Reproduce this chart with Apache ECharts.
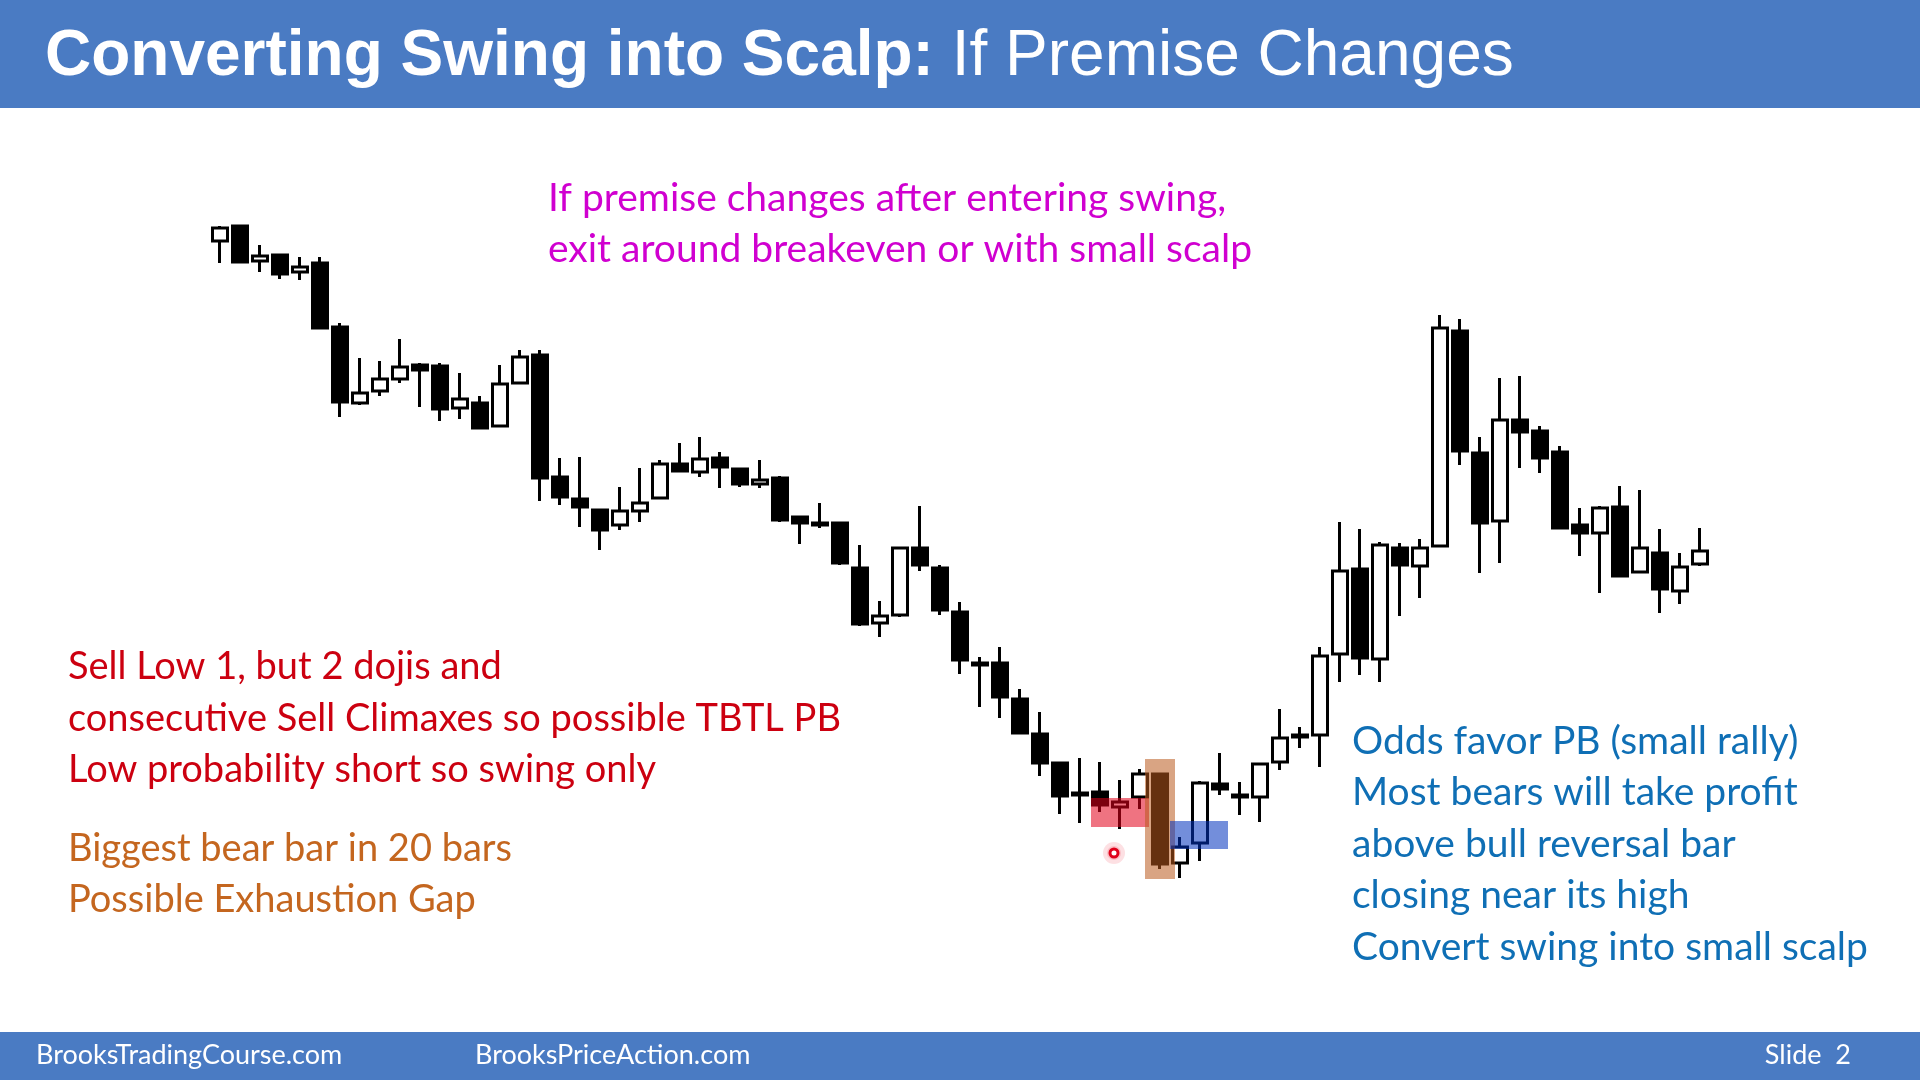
<!DOCTYPE html>
<html>
<head>
<meta charset="utf-8">
<title>Converting Swing into Scalp</title>
<script src="https://cdn.jsdelivr.net/npm/echarts@6/dist/echarts.min.js"></script>
<style>
  html, body { margin: 0; padding: 0; background: #fff; }
  #echar { width: 1920px; height: 1080px; }
</style>
</head>
<body>
<div id="echar"></div>
<script>
// bar numbers along the x axis
var bars = [];
for (var i = 1; i <= 75; i++) bars.push(String(i));

// prices (points)
var opens  = [759,774,739,745,728,737,673,597,609,621,635,634,592,597,574,617,645,523,501,490,475,489,502,536,528,542,531,516,522,483,477,477,432,377,385,452,432,388,337,337,301,266,237,207,208,193,203,226,137,157,216,205,203,238,265,265,346,431,341,452,434,454,669,547,479,580,569,548,475,467,493,428,447,409,436];
var closes = [772,738,744,726,733,672,598,607,621,633,630,591,601,572,616,643,522,503,493,470,489,497,536,529,541,533,516,520,480,477,475,437,376,384,452,435,390,340,335,303,267,237,204,205,195,198,226,136,153,217,211,203,236,262,263,344,429,342,455,435,452,672,549,477,580,568,542,472,467,492,424,452,411,433,449];
var lows   = [737,738,728,721,720,672,583,595,604,617,593,579,581,571,573,616,499,495,473,450,470,478,502,528,523,512,513,512,478,456,472,435,374,363,383,429,385,326,293,282,266,224,186,177,188,171,191,131,122,139,205,185,178,230,252,233,318,325,318,384,402,453,535,427,437,532,527,472,444,407,423,428,387,396,434];
var highs  = [774,775,755,745,743,743,677,642,639,661,637,637,627,604,635,650,650,542,543,491,513,532,540,557,563,548,531,540,524,484,497,478,455,399,452,494,435,398,343,353,311,288,238,242,238,220,231,226,163,219,247,218,237,291,273,353,478,471,458,457,461,685,681,563,622,624,574,554,492,494,514,510,471,447,472];

// shaded zones: [from bar, to bar, top price, bottom price]
var zones = [
  [43.55, 46.45, 202, 173],
  [46.25, 47.75, 241, 121],
  [47.5, 50.4, 179, 151]
];
var zoneColors = ['rgba(225,0,25,0.55)', 'rgba(185,90,30,0.55)', 'rgba(0,50,190,0.55)'];

// entry marker under the signal bar
var marker = [[44.7, 147]];

var candles = [];
for (var k = 0; k < bars.length; k++) {
  candles.push([opens[k], closes[k], lows[k], highs[k]]);
}

var myChart = echarts.init(document.getElementById('echar'), null, { renderer: 'canvas' });

var txt = function (str, x, y, color, size) {
  return {
    type: 'text',
    style: { text: str, x: x, y: y, fill: color, font: size + 'px Lato', verticalAlign: 'middle' }
  };
};

option = {
  animation: false,
  backgroundColor: '#ffffff',
  grid: { left: 210, right: 210, top: 200, height: 700 },
  xAxis: {
    type: 'category',
    data: bars,
    boundaryGap: true,
    show: false
  },
  yAxis: {
    type: 'value',
    min: 100,
    max: 800,
    show: false,
    splitLine: { show: false }
  },
  series: [{
    type: 'candlestick',
    data: candles,
    barWidth: 15,
    z: 2,
    itemStyle: {
      color: '#ffffff',
      color0: '#000000',
      borderColor: '#000000',
      borderColor0: '#000000',
      borderWidth: 3
    }
  }, {
    type: 'custom',
    z: 5,
    data: zones,
    encode: { x: [0, 1], y: [2, 3] },
    renderItem: function (params, api) {
      var band = api.size([1, 0])[0];
      var a = api.value(0), b = api.value(1);
      var p0 = api.coord([Math.floor(a), api.value(2)]);
      var p1 = api.coord([Math.floor(b), api.value(3)]);
      var x0 = p0[0] + (a - Math.floor(a)) * band;
      var x1 = p1[0] + (b - Math.floor(b)) * band;
      return {
        type: 'rect',
        shape: { x: x0, y: p0[1], width: x1 - x0, height: p1[1] - p0[1] },
        style: { fill: zoneColors[params.dataIndex] }
      };
    }
  }, {
    type: 'custom',
    z: 6,
    data: marker,
    encode: { x: 0, y: 1 },
    renderItem: function (params, api) {
      var band = api.size([1, 0])[0];
      var a = api.value(0);
      var p = api.coord([Math.floor(a), api.value(1)]);
      var cx = p[0] + (a - Math.floor(a)) * band;
      return {
        type: 'group',
        children: [{
          type: 'circle',
          shape: { cx: cx, cy: p[1], r: 11 },
          style: { fill: 'rgba(240,60,80,0.16)' }
        }, {
          type: 'circle',
          shape: { cx: cx, cy: p[1], r: 7 },
          style: { fill: 'rgba(240,60,80,0.2)' }
        }, {
          type: 'circle',
          shape: { cx: cx, cy: p[1], r: 4 },
          style: { fill: '#ffffff', stroke: '#e0001a', lineWidth: 3 }
        }]
      };
    }
  }],
  graphic: [
    { type: 'rect', shape: { x: 0, y: 0, width: 1920, height: 108 }, style: { fill: '#4a7bc3' } },
    {
      type: 'text',
      style: {
        x: 45, y: 57, verticalAlign: 'middle',
        text: '{b|Converting Swing into Scalp:}{n| If Premise Changes}',
        rich: {
          b: { font: 'bold 64px "Liberation Sans"', fill: '#ffffff' },
          n: { font: '64px "Liberation Sans"', fill: '#ffffff' }
        }
      }
    },
    { type: 'rect', shape: { x: 0, y: 1032, width: 1920, height: 48 }, style: { fill: '#4a7bc3' } },
    txt('BrooksTradingCourse.com', 36, 1055, '#ffffff', 27),
    txt('BrooksPriceAction.com', 475, 1055, '#ffffff', 27),
    {
      type: 'text',
      style: { text: 'Slide  2', x: 1851, y: 1055, fill: '#ffffff', font: '27px Lato', align: 'right', verticalAlign: 'middle' }
    },
    txt('If premise changes after entering swing,', 548, 198, '#d000d0', 39),
    txt('exit around breakeven or with small scalp', 548, 249, '#d000d0', 39),
    txt('Sell Low 1, but 2 dojis and', 68, 667, '#cc0010', 38),
    txt('consecutive Sell Climaxes so possible TBTL PB', 68, 719, '#cc0010', 38),
    txt('Low probability short so swing only', 68, 770, '#cc0010', 38),
    txt('Biggest bear bar in 20 bars', 68, 849, '#c4661f', 38),
    txt('Possible Exhaustion Gap', 68, 900, '#c4661f', 38),
    txt('Odds favor PB (small rally)', 1352, 741, '#0f6fb5', 39),
    txt('Most bears will take profit', 1352, 792, '#0f6fb5', 39),
    txt('above bull reversal bar', 1352, 844, '#0f6fb5', 39),
    txt('closing near its high', 1352, 895, '#0f6fb5', 39),
    txt('Convert swing into small scalp', 1352, 947, '#0f6fb5', 39)
  ]
};

myChart.setOption(option);
</script>
</body>
</html>
